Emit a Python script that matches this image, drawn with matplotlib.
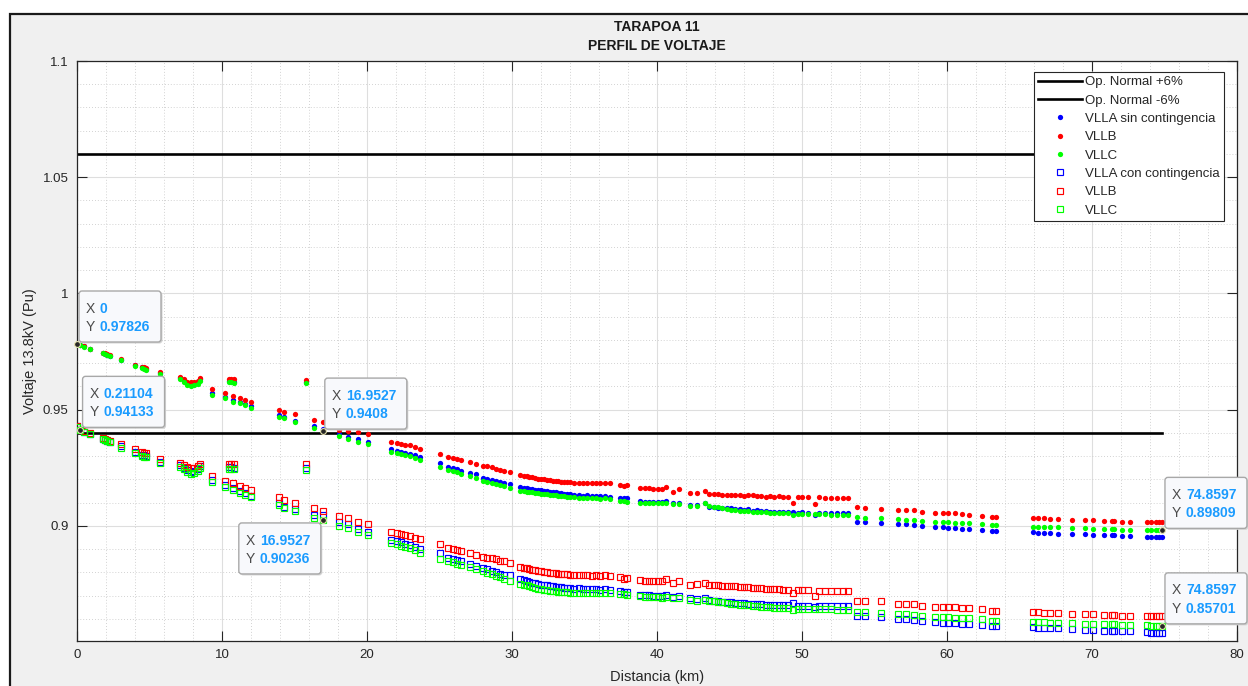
import matplotlib
matplotlib.use("Agg")
import matplotlib.pyplot as plt
import matplotlib.transforms as mtransforms
from matplotlib.patches import FancyBboxPatch, Rectangle
from matplotlib.ticker import MultipleLocator

plt.rcParams["font.family"] = ["Liberation Sans", "DejaVu Sans"]

# ---------------------------------------------------------------- data
distancia_km = [
    0.0, 0.21104, 0.45, 0.90, 1.80, 1.95, 2.10, 2.25, 3.03, 4.00,
    4.45, 4.60, 4.75, 5.72, 7.10, 7.35, 7.60, 7.85, 8.10, 8.35,
    8.50, 9.30, 10.20, 10.45, 10.65, 10.75, 10.85, 11.24, 11.60, 12.00,
    13.90, 14.30, 15.03, 15.80, 16.37, 16.9527, 18.09, 18.71, 19.36, 20.05,
    21.66, 22.05, 22.35, 22.65, 22.95, 23.30, 23.65, 25.00, 25.60, 25.90,
    26.20, 26.50, 27.10, 27.55, 28.00, 28.30, 28.60, 28.90, 29.20, 29.45,
    29.86, 30.55, 30.80, 31.00, 31.20, 31.40, 31.60, 31.80, 32.00, 32.20,
    32.40, 32.60, 32.80, 33.00, 33.20, 33.40, 33.60, 33.80, 34.00, 34.30,
    34.60, 34.90, 35.20, 35.50, 35.80, 36.10, 36.40, 36.75, 37.45, 37.70,
    37.95, 38.85, 39.15, 39.45, 39.75, 40.05, 40.35, 40.60, 41.10, 41.55,
    42.30, 42.75, 43.30, 43.60, 43.90, 44.20, 44.50, 44.80, 45.10, 45.40,
    45.70, 46.00, 46.30, 46.60, 46.90, 47.20, 47.50, 47.80, 48.10, 48.40,
    48.70, 49.00, 49.40, 49.70, 50.00, 50.40, 50.90, 51.20, 51.60, 52.00,
    52.40, 52.80, 53.20, 53.77, 54.34, 55.45, 56.64, 57.20, 57.70, 58.30,
    59.20, 59.70, 60.10, 60.55, 61.00, 61.55, 62.40, 63.10, 63.40, 65.90,
    66.30, 66.70, 67.10, 67.65, 68.60, 69.50, 70.10, 70.80, 71.35, 71.50,
    72.10, 72.60, 73.80, 74.10, 74.40, 74.65, 74.8597,
]

# phase voltages without contingency (pu)
vlla_sin = [
    .97828, .9778, .9772, .9762, .9744, .9741, .9737, .9732, .9715, .9691,
    .9682, .9679, .9674, .9658, .9636, .9624, .9615, .9610, .9612, .9618,
    .9631, .9572, .9555, .9622, .9622, .9541, .9621, .9533, .9526, .9516,
    .9477, .9470, .9453, .9618, .9430, .9418, .9394, .9384, .9373, .9362,
    .9330, .9322, .9318, .9314, .9310, .9303, .9296, .9270, .9255, .9250,
    .9244, .9238, .9228, .9222, .9205, .9201, .9197, .9193, .9189, .9184,
    .9180, .9166, .9164, .9162, .9160, .9158, .9156, .9154, .9153, .9151,
    .9150, .9148, .9146, .9144, .9142, .9140, .9139, .9138, .9136, .9134,
    .9132, .9130, .9132, .9128, .9130, .9127, .9129, .9126, .9122, .9120,
    .9118, .9106, .9105, .9104, .9103, .9103, .9102, .9108, .9098, .9100,
    .9090, .9089, .9097, .9082, .9080, .9079, .9077, .9076, .9075, .9073,
    .9072, .9070, .9071, .9066, .9068, .9064, .9066, .9062, .9060, .9059,
    .9060, .9058, .9062, .9057, .9058, .9057, .9045, .9056, .9056, .9055,
    .9055, .9055, .9055, .9018, .9018, .9012, .9009, .9007, .9006, .9000,
    .8997, .8995, .8993, .8991, .8988, .8987, .8983, .8979, .8979, .8973,
    .8970, .8969, .8968, .8967, .8966, .8964, .8962, .8960, .8959, .8959,
    .8957, .8957, .8953, .8952, .8951, .8951, .8951,
]
vllb_sin = [
    .97830, .9779, .9773, .9763, .9746, .9743, .9739, .9735, .9718, .9694,
    .9685, .9682, .9678, .9661, .9641, .9630, .9621, .9617, .9619, .9625,
    .9637, .9587, .9571, .9632, .9632, .9557, .9631, .9549, .9542, .9534,
    .9499, .9491, .9480, .9628, .9456, .9445, .9414, .9408, .9403, .9394,
    .9362, .9355, .9352, .9349, .9346, .9339, .9330, .9310, .9298, .9294,
    .9289, .9284, .9274, .9267, .9259, .9256, .9252, .9247, .9242, .9238,
    .9231, .9219, .9216, .9213, .9211, .9209, .9206, .9204, .9202, .9200,
    .9198, .9197, .9195, .9194, .9192, .9191, .9190, .9189, .9188, .9186,
    .9185, .9184, .9186, .9183, .9185, .9183, .9184, .9183, .9178, .9170,
    .9174, .9163, .9162, .9162, .9161, .9160, .9160, .9167, .9148, .9158,
    .9143, .9141, .9152, .9139, .9138, .9137, .9135, .9134, .9133, .9132,
    .9134, .9128, .9133, .9131, .9127, .9130, .9126, .9129, .9125, .9127,
    .9124, .9126, .9100, .9123, .9124, .9123, .9093, .9123, .9122, .9122,
    .9122, .9122, .9122, .9080, .9079, .9073, .9069, .9068, .9067, .9062,
    .9057, .9056, .9056, .9055, .9050, .9049, .9043, .9040, .9040, .9033,
    .9032, .9032, .9031, .9030, .9026, .9025, .9024, .9022, .9022, .9021,
    .9018, .9018, .9016, .9016, .9016, .9016, .9016,
]
vllc_sin = [
    .97826, .9777, .9771, .9761, .9743, .9739, .9735, .9730, .9713, .9689,
    .9680, .9676, .9671, .9655, .9630, .9617, .9608, .9603, .9605, .9611,
    .9625, .9565, .9549, .9617, .9617, .9535, .9616, .9527, .9520, .9509,
    .9470, .9463, .9446, .9613, .9423, .9408, .9388, .9374, .9362, .9351,
    .9320, .9313, .9309, .9305, .9300, .9292, .9283, .9255, .9241, .9236,
    .9230, .9224, .9215, .9208, .9193, .9189, .9185, .9180, .9176, .9172,
    .9165, .9152, .9150, .9148, .9146, .9144, .9142, .9140, .9139, .9137,
    .9136, .9134, .9132, .9131, .9129, .9128, .9127, .9126, .9125, .9123,
    .9122, .9121, .9122, .9119, .9120, .9117, .9118, .9116, .9109, .9107,
    .9105, .9100, .9099, .9098, .9098, .9097, .9097, .9100, .9093, .9095,
    .9087, .9086, .9097, .9084, .9082, .9081, .9078, .9074, .9068, .9070,
    .9066, .9063, .9065, .9062, .9060, .9061, .9058, .9057, .9056, .9055,
    .9054, .9054, .9048, .9052, .9052, .9051, .9051, .9050, .9050, .9049,
    .9049, .9049, .9048, .9037, .9036, .9033, .9029, .9027, .9026, .9021,
    .9018, .9017, .9016, .9014, .9012, .9011, .9007, .9004, .9004, .8997,
    .8996, .8996, .8995, .8994, .8990, .8989, .8988, .8986, .8985, .8985,
    .8983, .8983, .8981, .8981, .8981, .8981, .89809,
]

# phase voltages with contingency (pu)
vlla_con = [
    .9428, .9414, .9406, .9397, .9374, .9371, .9367, .9363, .9342, .9318,
    .9307, .9304, .9301, .9276, .9260, .9249, .9240, .9234, .9236, .9243,
    .9256, .9197, .9175, .9252, .9252, .9162, .9251, .9150, .9140, .9130,
    .9097, .9083, .9071, .9248, .9045, .9045, .9017, .9010, .8985, .8973,
    .8940, .8934, .8929, .8924, .8918, .8910, .8900, .8883, .8861, .8857,
    .8852, .8847, .8837, .8829, .8818, .8813, .8807, .8801, .8795, .8789,
    .8789, .8771, .8768, .8764, .8760, .8756, .8753, .8750, .8748, .8746,
    .8744, .8742, .8740, .8738, .8737, .8736, .8735, .8734, .8732, .8730,
    .8731, .8728, .8729, .8727, .8728, .8726, .8727, .8725, .8718, .8716,
    .8714, .8703, .8702, .8701, .8700, .8699, .8699, .8705, .8695, .8698,
    .8688, .8686, .8690, .8680, .8678, .8676, .8674, .8672, .8671, .8669,
    .8668, .8667, .8666, .8665, .8664, .8663, .8662, .8661, .8660, .8659,
    .8659, .8658, .8668, .8657, .8657, .8656, .8650, .8656, .8655, .8655,
    .8655, .8655, .8654, .8614, .8613, .8607, .8600, .8598, .8597, .8591,
    .8586, .8584, .8583, .8582, .8580, .8579, .8574, .8570, .8569, .8564,
    .8562, .8561, .8561, .8560, .8556, .8554, .8553, .8550, .8550, .8549,
    .8546, .8546, .8542, .8541, .8541, .8541, .8541,
]
vllb_con = [
    .9429, .94145, .9407, .9398, .9377, .9374, .9370, .9367, .9351, .9330,
    .9318, .9315, .9313, .9288, .9270, .9261, .9252, .9248, .9250, .9256,
    .9268, .9216, .9194, .9266, .9266, .9186, .9265, .9170, .9165, .9155,
    .9123, .9112, .9100, .9265, .9076, .9064, .9043, .9033, .9018, .9009,
    .8975, .8968, .8964, .8960, .8956, .8950, .8943, .8921, .8904, .8901,
    .8897, .8894, .8883, .8875, .8868, .8864, .8860, .8856, .8851, .8847,
    .8840, .8825, .8820, .8817, .8814, .8811, .8809, .8807, .8805, .8803,
    .8801, .8799, .8798, .8796, .8795, .8794, .8793, .8792, .8791, .8789,
    .8790, .8787, .8789, .8786, .8788, .8785, .8787, .8785, .8780, .8770,
    .8776, .8768, .8765, .8764, .8763, .8762, .8761, .8770, .8755, .8765,
    .8748, .8752, .8754, .8746, .8745, .8744, .8743, .8742, .8741, .8740,
    .8739, .8736, .8738, .8734, .8733, .8732, .8730, .8729, .8728, .8727,
    .8726, .8726, .8710, .8724, .8724, .8723, .8700, .8722, .8722, .8721,
    .8721, .8721, .8721, .8678, .8677, .8675, .8665, .8664, .8663, .8657,
    .8653, .8652, .8652, .8651, .8646, .8645, .8642, .8636, .8636, .8631,
    .8628, .8627, .8627, .8626, .8621, .8621, .8620, .8617, .8617, .8616,
    .8614, .8614, .8613, .8613, .8613, .8613, .8613,
]
vllc_con = [
    .9427, .94133, .9405, .9396, .9372, .9368, .9364, .9360, .9337, .9313,
    .9302, .9298, .9295, .9270, .9254, .9243, .9232, .9224, .9228, .9236,
    .9250, .9191, .9169, .9245, .9245, .9155, .9244, .9143, .9133, .9123,
    .9090, .9076, .9064, .9241, .9033, .90236, .9001, .8990, .8975, .8961,
    .8926, .8921, .8915, .8910, .8904, .8895, .8885, .8857, .8847, .8843,
    .8837, .8832, .8825, .8815, .8804, .8799, .8793, .8786, .8779, .8772,
    .8761, .8751, .8748, .8744, .8740, .8736, .8733, .8730, .8727, .8725,
    .8723, .8721, .8720, .8719, .8717, .8716, .8715, .8714, .8713, .8712,
    .8713, .8711, .8712, .8711, .8712, .8710, .8711, .8711, .8708, .8706,
    .8704, .8697, .8696, .8695, .8694, .8693, .8692, .8693, .8688, .8690,
    .8680, .8679, .8683, .8676, .8675, .8673, .8671, .8669, .8666, .8664,
    .8661, .8659, .8658, .8656, .8654, .8653, .8651, .8650, .8648, .8647,
    .8646, .8645, .8640, .8644, .8643, .8643, .8642, .8642, .8641, .8641,
    .8640, .8640, .8640, .8631, .8630, .8625, .8620, .8619, .8618, .8613,
    .8610, .8608, .8607, .8606, .8604, .8603, .8599, .8593, .8593, .8588,
    .8586, .8585, .8584, .8583, .8582, .8580, .8579, .8577, .8577, .8576,
    .8574, .8574, .8572, .8571, .8571, .8570, .85701,
]

# operating band limits (+/- 6 %)
limite_x = [0.0, 74.8597]
limite_sup = [1.06, 1.06]
limite_inf = [0.94, 0.94]

x_ticks = [0, 10, 20, 30, 40, 50, 60, 70, 80]
y_ticks = [0.9, 0.95, 1.0, 1.05, 1.1]
y_tick_labels = ["0.9", "0.95", "1", "1.05", "1.1"]

# (series, index, box dx, box dy) for the data cursors, offsets in pixels
cursores = [
    (vllc_sin, 0, 2, 2),
    (vllc_con, 1, 2.5, 2.5),
    (vllc_sin, 35, 2, 2),
    (vllc_con, 35, -84, -53.5),
    (vllc_sin, len(distancia_km) - 1, 2.5, 2),
    (vllc_con, len(distancia_km) - 1, 2.5, 2),
]

# ---------------------------------------------------------------- figure
W, H = 1248, 686
fig = plt.figure(figsize=(W / 100, H / 100), dpi=100, facecolor="white")

# grey window panel with dark frame
fig.add_artist(Rectangle((10 / W, -0.1), 1.2, (H - 14) / H + 0.1,
                         transform=fig.transFigure, facecolor="#f0f0f0",
                         edgecolor="#1a1a1a", linewidth=1.6, zorder=-10))

ax = fig.add_axes([77 / W, 1 - 641 / H, 1160 / W, 580 / H])
ax.set_facecolor("white")
ax.set_xlim(0, 80)
ax.set_ylim(0.8505, 1.1)

ax.set_xticks(x_ticks)
ax.set_yticks(y_ticks)
ax.set_yticklabels(y_tick_labels)
ax.xaxis.set_minor_locator(MultipleLocator(2))
ax.yaxis.set_minor_locator(MultipleLocator(0.01))
ax.grid(which="major", color="#dedede", linewidth=0.8, linestyle="-")
ax.grid(which="minor", color="#c4c4c4", linewidth=0.6, linestyle=(0, (1, 2.5)))
ax.set_axisbelow(True)
ax.tick_params(which="major", direction="in", length=7, width=0.8,
               top=True, right=True, colors="#262626", labelsize=9.5,
               pad=6)
ax.tick_params(which="minor", length=0, top=True, right=True)
for s in ax.spines.values():
    s.set_color("#262626")
    s.set_linewidth(0.9)

# band limits
ax.plot(limite_x, limite_sup, color="black", linewidth=1.9,
        label="Op. Normal +6%", zorder=2)
ax.plot(limite_x, limite_inf, color="black", linewidth=1.9,
        label="Op. Normal -6%", zorder=2)

# voltages without contingency
dot = dict(linestyle="none", marker="o", markersize=3.8, markeredgewidth=0,
           zorder=3)
ax.plot(distancia_km, vlla_sin, color="#0000ff", label="VLLA sin contingencia", **dot)
ax.plot(distancia_km, vllb_sin, color="#ff0000", label="VLLB", **dot)
ax.plot(distancia_km, vllc_sin, color="#00ff00", label="VLLC", **dot)

# voltages with contingency
sq = dict(linestyle="none", marker="s", markersize=3.7, markeredgewidth=0.85,
          markerfacecolor="none", zorder=3)
ax.plot(distancia_km, vlla_con, color="#0000ff", markeredgecolor="#0000ff",
        label="VLLA con contingencia", **sq)
ax.plot(distancia_km, vllb_con, color="#ff0000", markeredgecolor="#ff0000",
        label="VLLB", **sq)
ax.plot(distancia_km, vllc_con, color="#00ff00", markeredgecolor="#00ff00",
        label="VLLC", **sq)

leg = ax.legend(loc="upper right", bbox_to_anchor=(0.9888, 0.981),
                borderaxespad=0, fontsize=9.5, frameon=True, fancybox=False,
                framealpha=1, edgecolor="#262626", handlelength=3.3,
                handletextpad=0.25, labelspacing=0.46, borderpad=0.32,
                markerscale=1.0)
leg.get_frame().set_linewidth(0.8)
for t in leg.get_texts():
    t.set_color("#262626")

ax.set_xlabel("Distancia (km)", fontsize=10.5, color="#262626")
ax.set_ylabel("Voltaje 13.8kV (Pu)", fontsize=10.5, color="#262626")
ax.xaxis.set_label_coords(0.5, -0.0505)
ax.yaxis.set_label_coords(-0.0345, 0.5)

fig.text(657 / W, 1 - 27 / H, "TARAPOA 11", ha="center", va="center",
         fontsize=10, fontweight="bold", color="#1a1a1a")
fig.text(657 / W, 1 - 46 / H, "PERFIL DE VOLTAJE", ha="center", va="center",
         fontsize=10, fontweight="bold", color="#1a1a1a")


def fmt(v):
    s = f"{v:.5f}".rstrip("0").rstrip(".")
    return s


# data cursors
BW, BH = 82, 51
for serie, i, dx, dy in cursores:
    xv, yv = distancia_km[i], serie[i]
    tr = mtransforms.Affine2D() + mtransforms.ScaledTranslation(xv, yv, ax.transData)
    shadow = FancyBboxPatch((dx + 1.5, dy - 1.5), BW, BH,
                            boxstyle="round,pad=0,rounding_size=3",
                            transform=tr, facecolor="#d4d4d4", edgecolor="none",
                            clip_on=False, zorder=8)
    box = FancyBboxPatch((dx, dy), BW, BH, boxstyle="round,pad=0,rounding_size=3",
                         transform=tr, facecolor="#f8f9fc", edgecolor="#a8a8a8",
                         linewidth=1.0, clip_on=False, zorder=9)
    ax.add_artist(shadow)
    ax.add_artist(box)
    for row, (lab, val) in enumerate([("X", xv), ("Y", yv)]):
        ty = dy + BH - 17.6 - row * 18.4
        ax.text(dx + 7, ty, lab, transform=tr, ha="left", va="center",
                fontsize=10, color="#4a4a4a", zorder=10, clip_on=False)
        ax.text(dx + 21, ty, fmt(val), transform=tr, ha="left", va="center",
                fontsize=10, fontweight="bold", color="#1a9bff", zorder=10,
                clip_on=False)
    ax.plot([xv], [yv], linestyle="none", marker="o", markersize=4.2,
            markerfacecolor="#262626", markeredgecolor="#e6e2b0",
            markeredgewidth=0.8, zorder=11, clip_on=False)

fig.savefig("out.png", dpi=100, facecolor=fig.get_facecolor())
